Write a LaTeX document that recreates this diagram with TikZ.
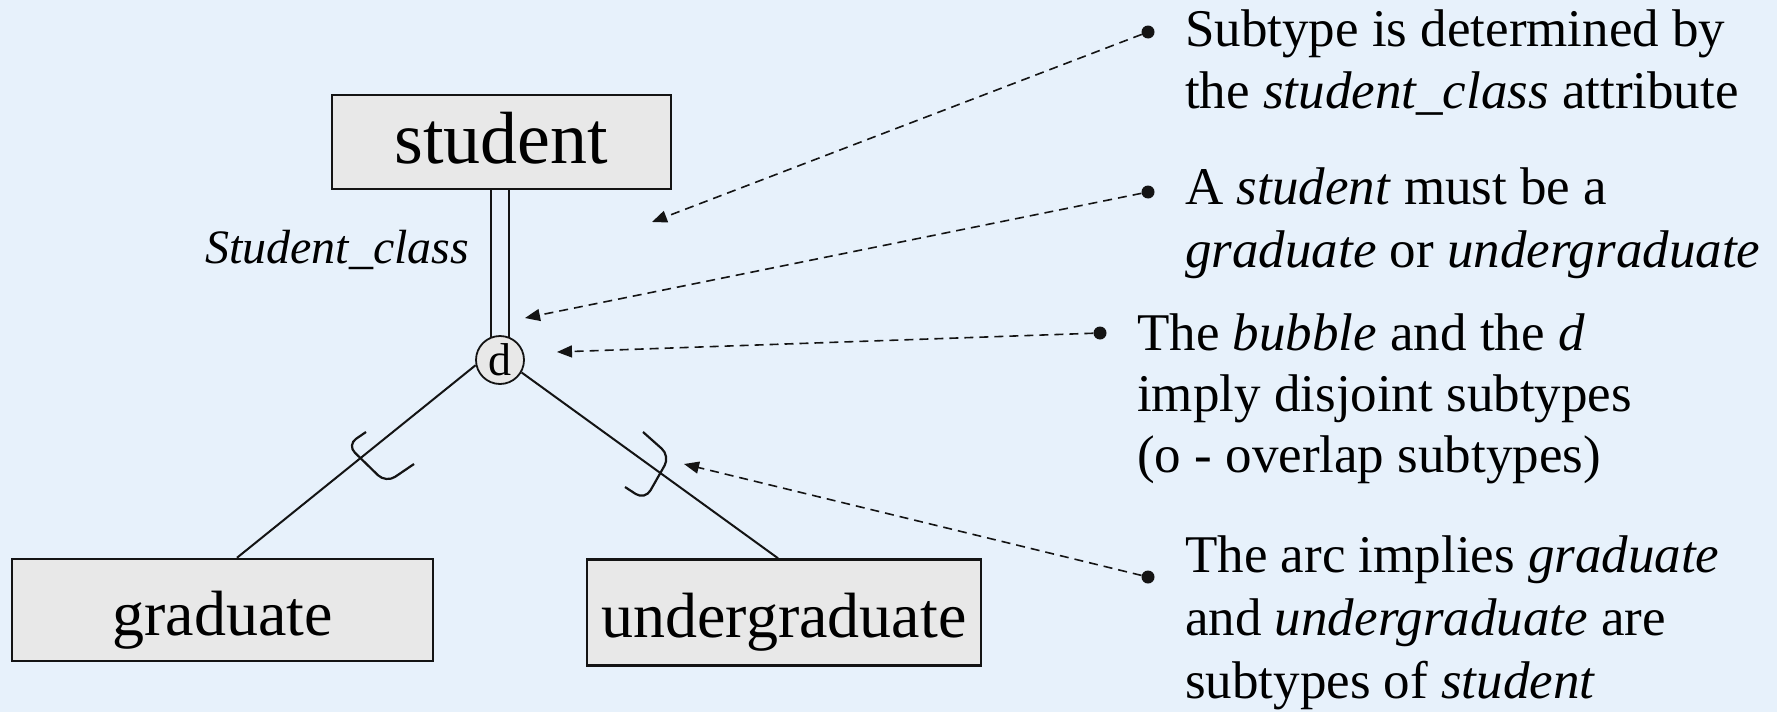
\documentclass[tikz,border=0pt]{standalone}
\usepackage{fontspec}
\setmainfont{Liberation Serif}
\usetikzlibrary{arrows.meta}

\definecolor{pagebg}{RGB}{231,241,251}
\definecolor{boxfill}{RGB}{232,232,232}
\definecolor{ink}{RGB}{20,20,20}

\newcommand{\fs}[2]{\fontsize{#1pt}{#2pt}\selectfont}

\tikzset{
  entity/.style={draw=ink, line width=2.5pt, fill=boxfill, inner sep=0pt,
                 text depth=0pt},
  bubble/.style={circle, draw=ink, line width=1.8pt, fill=boxfill,
                 minimum size=48pt, inner sep=0pt, font=\fs{46}{50}},
  link/.style={draw=ink, line width=2pt},
  bracket/.style={draw=ink, line width=2.2pt, rounded corners=11pt},
  note/.style={anchor=base west, inner sep=0pt, font=\fs{53}{62}},
  dot/.style={circle, fill=ink, minimum size=13pt, inner sep=0pt},
  pointer/.style={draw=ink, line width=1.6pt, dash pattern=on 9pt off 6pt,
                  -{Triangle[length=15pt,width=12pt]}}
}

\begin{document}
\begin{tikzpicture}[x=1pt, y=-1pt]
  % page background and size
  \fill[pagebg] (0,0) rectangle (1777,712);
  \useasboundingbox (0,0) rectangle (1777,712);

  % entities
  \node[entity, minimum width=339pt, minimum height=94pt, text height=42pt,
        font=\fs{74}{80}] (stu) at (501.5,142) {student};
  \node[entity, minimum width=421pt, minimum height=102pt, text height=50pt,
        font=\fs{64}{70}] (grad) at (222.5,610) {graduate};
  \node[entity, minimum width=394pt, minimum height=106pt, text height=49pt,
        font=\fs{64}{70}] (ugrad) at (784,612.5) {undergraduate};

  % disjointness bubble
  \node[bubble] (d) at (500,360) {d};

  % total participation: double line from supertype to bubble
  \draw[link] (d.110 |- stu.south) -- (d.110);
  \draw[link] (d.70 |- stu.south) -- (d.70);

  % discriminator attribute
  \node[anchor=base west, inner sep=0pt, font=\fs{48}{52}\itshape] (disc)
        at (205,263) {Student\_class};

  % subtype links
  \draw[link] (d.192) -- ([xshift=14.5pt]grad.north);
  \draw[link] (d.-30) -- ([xshift=-6pt]ugrad.north);

  % subset arcs across the subtype links
  \draw[bracket] (366,432) -- (347,445) -- (386,483) -- (414,464);
  \draw[bracket] (643,432) -- (670,456) -- (645,500) -- (625,487);

  % notes
  \node[dot] (b1) at (1148,32) {};
  \node[note] (n1a) at (1185,46) {Subtype is determined by};
  \node[note] (n1b) at (1185,108) {the \textit{student\_class} attribute};

  \node[dot] (b2) at (1148,192) {};
  \node[note] (n2a) at (1185,204) {A \textit{student} must be a};
  \node[note] (n2b) at (1185,267) {\textit{graduate} or \textit{undergraduate}};

  \node[dot] (b3) at (1100,333) {};
  \node[note] (n3a) at (1137,350) {The \textit{bubble} and the \textit{d}};
  \node[note] (n3b) at (1137,411) {imply disjoint subtypes};
  \node[note] (n3c) at (1137,472) {(o - overlap subtypes)};

  \node[dot] (b4) at (1148,577) {};
  \node[note] (n4a) at (1185,572) {The arc implies \textit{graduate}};
  \node[note] (n4b) at (1185,635) {and \textit{undergraduate} are};
  \node[note] (n4c) at (1185,698) {subtypes of \textit{student}};

  % pointers from notes to the diagram
  \coordinate (t1) at (652,222);
  \coordinate (t2) at (525,318);
  \coordinate (t3) at (557,352);
  \coordinate (t4) at (684,464);
  \draw[pointer] (b1) -- (t1);
  \draw[pointer] (b2) -- (t2);
  \draw[pointer] (b3) -- (t3);
  \draw[pointer] (b4) -- (t4);
\end{tikzpicture}
\end{document}
